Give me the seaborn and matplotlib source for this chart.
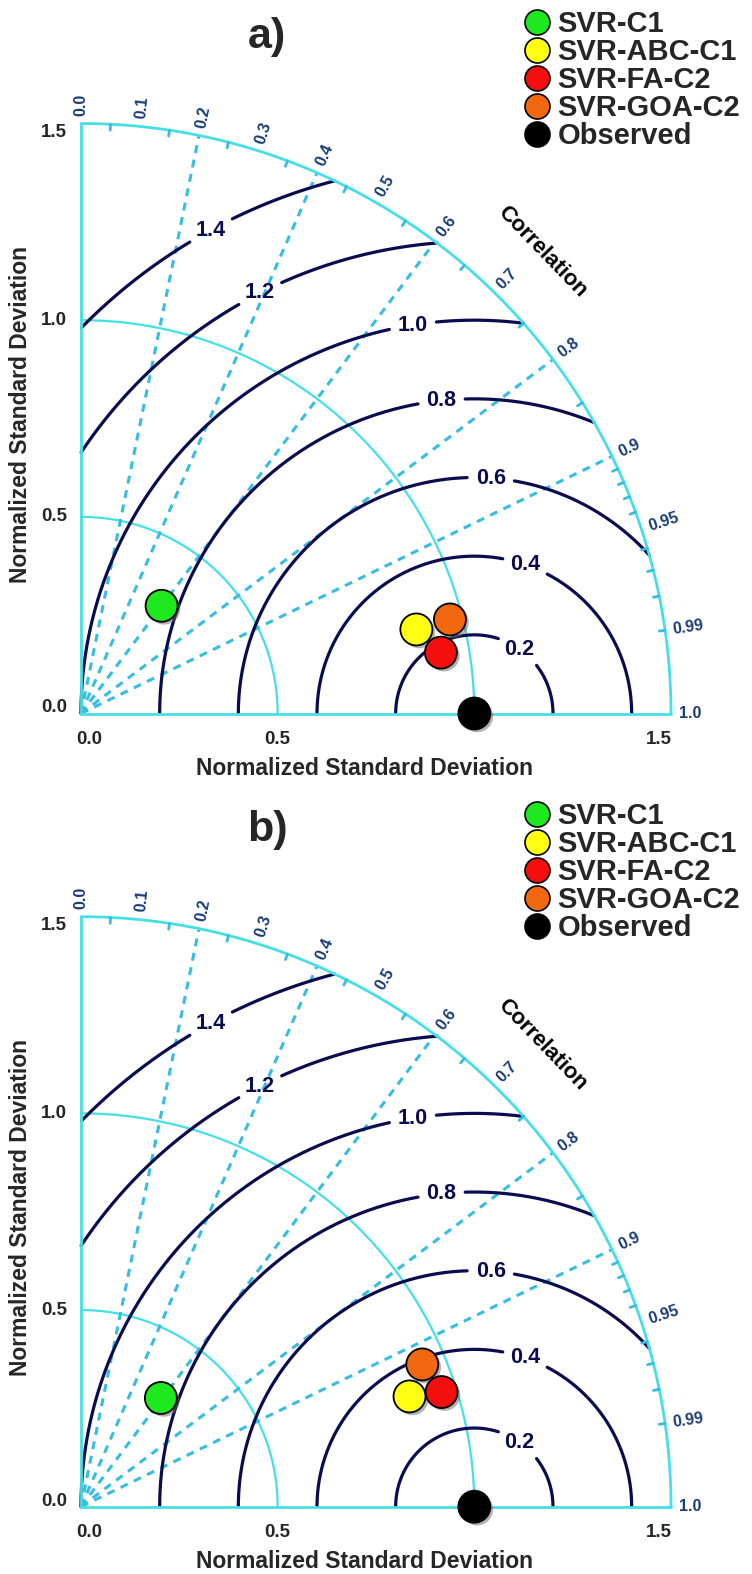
import numpy as np
import pandas as pd
import seaborn as sns
import matplotlib.pyplot as plt
import matplotlib.patheffects as pe
from matplotlib.lines import Line2D

sns.set_theme(style="white")
plt.rcParams['font.family'] = ['Liberation Sans', 'DejaVu Sans']
plt.rcParams['font.weight'] = 'bold'

# data
models = ['SVR-C1', 'SVR-ABC-C1', 'SVR-FA-C2', 'SVR-GOA-C2']
model_colors = ['#1EE81E', '#FFFF12', '#F50E0E', '#F2680F']
std_a = [0.342, 0.879, 0.928, 0.968]
corr_a = [0.599, 0.970, 0.986, 0.969]
std_b = [0.343, 0.881, 0.962, 0.940]
corr_b = [0.592, 0.948, 0.953, 0.923]
obs_std = 1.0
obs_corr = 1.0

ytick_vals = [0.0, 0.5, 1.0, 1.5]
xtick_vals = [0.0, 0.5, 1.5]
corr_labels = [0.0, 0.1, 0.2, 0.3, 0.4, 0.5, 0.6, 0.7, 0.8, 0.9, 0.95, 0.99, 1.0]
corr_dashed = [0.2, 0.4, 0.6, 0.8, 0.9]
corr_minor = [0.05, 0.15, 0.25, 0.35, 0.45, 0.55, 0.65, 0.75, 0.85,
              0.91, 0.92, 0.93, 0.94, 0.96, 0.97, 0.98, 0.99]
rms_levels = [0.2, 0.4, 0.6, 0.8, 1.0, 1.2, 1.4]
rms_label_angle = [55, 71, 86, 96, 99, 117, 118.6]

CYAN = '#45E0E6'
DASH = '#36BDE0'
NAVY = '#0B0B4F'
LBLUE = '#1A3C78'
RMAX = 1.5


def draw_panel(ax, std, corr, tag, leg_top):
    ax.set_xlim(0, RMAX)
    ax.set_ylim(0, RMAX)
    ax.set_aspect('equal')
    ax.axis('off')
    t = np.linspace(0, np.pi / 2, 400)

    # standard deviation arcs and axes
    for r in [0.5, 1.0]:
        ax.plot(r * np.cos(t), r * np.sin(t), color=CYAN, lw=1.6, clip_on=False, zorder=2)
    ax.plot(RMAX * np.cos(t), RMAX * np.sin(t), color=CYAN, lw=2, clip_on=False, zorder=3)
    ax.plot([0, 0], [0, RMAX], color=CYAN, lw=2, clip_on=False, zorder=3)
    ax.plot([0, RMAX], [0, 0], color=CYAN, lw=2, clip_on=False, zorder=3)

    # correlation lines, ticks, labels
    for c in corr_dashed:
        th = np.arccos(c)
        ax.plot([0, RMAX * np.cos(th)], [0, RMAX * np.sin(th)], color=DASH,
                lw=2.2, ls=(0, (2.6, 2.2)), clip_on=False, zorder=2)
    for c in corr_minor:
        th = np.arccos(c)
        ax.plot([RMAX * np.cos(th), 1.485 * np.cos(th)],
                [RMAX * np.sin(th), 1.485 * np.sin(th)],
                color=DASH, lw=2, clip_on=False, zorder=3)
    for c in corr_labels:
        th = np.arccos(c)
        ax.text(1.52 * np.cos(th), 1.52 * np.sin(th), f'{c:g}' if c not in (0.0, 1.0) else f'{c:.1f}',
                rotation=np.degrees(th), rotation_mode='anchor', ha='left', va='center',
                fontsize=11.5, color=LBLUE, fontweight='bold')
    ax.text(1.66 * np.cos(np.pi / 4), 1.66 * np.sin(np.pi / 4), 'Correlation',
            rotation=-46, rotation_mode='anchor', ha='center', va='center',
            fontsize=16, color='black', fontweight='bold')

    # centred RMS difference circles around the observed point
    phi = np.linspace(0, np.pi, 2000)
    for R, ang in zip(rms_levels, rms_label_angle):
        x = obs_std + R * np.cos(phi)
        y = R * np.sin(phi)
        gap = 0.06 / R
        a = np.radians(ang)
        ok = (x >= 0) & (x ** 2 + y ** 2 <= RMAX ** 2)
        for part in [ok & (phi < a - gap), ok & (phi > a + gap)]:
            ax.plot(x[part], y[part], color=NAVY, lw=2.3, clip_on=False, zorder=2)
        ax.text(obs_std + R * np.cos(a), R * np.sin(a), f'{R:.1f}', ha='center', va='center',
                fontsize=15.5, color=NAVY, fontweight='bold', zorder=4)

    # tick labels and axis titles
    ytick_pos = [0.014, 0.5, 1.0, 1.478]
    for v, yp in zip(ytick_vals, ytick_pos):
        ax.text(-0.035, yp, f'{v:.1f}', ha='right', va='center', fontsize=13.5, fontweight='bold')
    for v in xtick_vals:
        ax.text(v + (0.02 if v == 0 else (-0.03 if v == RMAX else 0)), -0.065, f'{v:.1f}',
                ha='center', va='center', fontsize=13.5, fontweight='bold')
    ax.text(0.72, -0.14, 'Normalized Standard Deviation', ha='center', va='center',
            fontsize=16.5, fontweight='bold')
    ax.text(-0.155, 0.76, 'Normalized Standard Deviation', ha='center', va='center',
            rotation=90, fontsize=16.5, fontweight='bold')
    ax.text(0.473, 1.72, tag, ha='center', va='center', fontsize=31, fontweight='bold')

    # model points
    df = pd.DataFrame({'model': models + ['Observed'],
                       'std': std + [obs_std],
                       'corr': corr + [obs_corr]})
    df['x'] = df['std'] * df['corr']
    df['y'] = df['std'] * np.sin(np.arccos(df['corr'].clip(-1, 1)))
    pal = dict(zip(models + ['Observed'], model_colors + ['black']))
    sns.scatterplot(data=df, x='x', y='y', hue='model', palette=pal, s=530,
                    edgecolor='black', linewidth=1.3, legend=False, ax=ax, clip_on=False,
                    zorder=5,
                    path_effects=[pe.SimplePatchShadow(offset=(2, -2), shadow_rgbFace='0.4', alpha=0.5),
                                  pe.Normal()])
    ax.set_xlabel('')
    ax.set_ylabel('')

    handles = [Line2D([], [], ls='', marker='o', markersize=18, markerfacecolor=pal[m],
                      markeredgecolor='black', markeredgewidth=1.2) for m in pal]
    ax.legend(handles, list(pal), loc='upper left', bbox_to_anchor=(522 / 752, leg_top),
              bbox_transform=ax.figure.transFigure, frameon=False,
              handlelength=1.0, handletextpad=0.22, labelspacing=0.0,
              borderpad=0, borderaxespad=0, prop={'weight': 'bold', 'size': 21})


fig = plt.figure(figsize=(7.52, 15.74), dpi=100)
ax_a = fig.add_axes([81 / 752, (1574 - 713.5) / 1574, 590 / 752, 590 / 1574])
ax_b = fig.add_axes([81 / 752, (1574 - 1506.7) / 1574, 590 / 752, 590 / 1574])
draw_panel(ax_a, std_a, corr_a, 'a)', 1 - 10.5 / 1574)
draw_panel(ax_b, std_b, corr_b, 'b)', 1 - 802 / 1574)

plt.savefig('out.png', dpi=100)
plt.close()
